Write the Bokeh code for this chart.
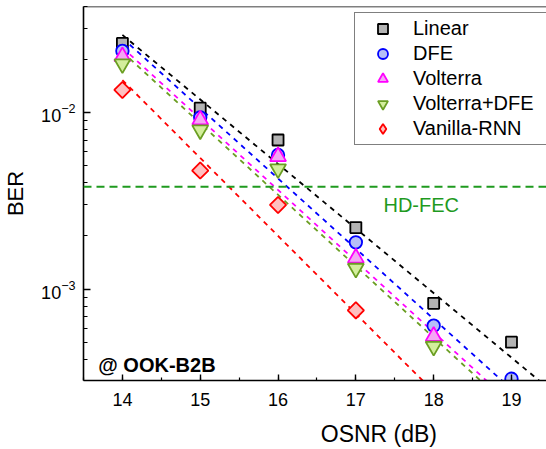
import numpy as np
from bokeh.plotting import figure
from bokeh.models import (Span, Label, Legend, LegendItem, FixedTicker,
                          SingleIntervalTicker, Range1d)
from bokeh.embed import file_html
from bokeh.resources import INLINE

# ---------------- data ----------------
osnr_linear = [14, 15, 16, 17, 18, 19]
ber_linear = [2.47e-2, 1.06e-2, 7.0e-3, 2.23e-3, 8.3e-4, 5.0e-4]

osnr_dfe = [14, 15, 16, 17, 18, 19]
ber_dfe = [2.24e-2, 9.4e-3, 5.76e-3, 1.84e-3, 6.2e-4, 3.1e-4]

osnr_volterra = [14, 15, 16, 17, 18]
ber_volterra = [2.08e-2, 9.1e-3, 5.64e-3, 1.50e-3, 5.4e-4]

osnr_vdfe = [14, 15, 16, 17, 18]
ber_vdfe = [1.89e-2, 7.98e-3, 4.8e-3, 1.31e-3, 4.73e-4]

osnr_rnn = [14, 15, 16, 17]
ber_rnn = [1.345e-2, 4.7e-3, 3.0e-3, 7.57e-4]

# linear fits (in log BER) drawn as dashed lines, end points
fit_osnr = [14, 19.5]
fit_linear = [2.76e-2, 2.68e-4]
fit_dfe = [2.65e-2, 1.71e-4]
fit_volterra = [2.34e-2, 1.41e-4]
fit_vdfe = [2.21e-2, 1.31e-4]
fit_rnn = [1.53e-2, 5.70e-5]

hd_fec = 3.8e-3
labels = ["Linear", "DFE", "Volterra", "Volterra+DFE", "Vanilla-RNN"]
y_ticks = [1e-3, 1e-2]
x_range = (13.5, 19.45)
y_range = (3.03e-4, 4.0e-2)

FONT = "Liberation Sans"

p = figure(width=546, height=449,
           x_range=Range1d(*x_range), y_range=Range1d(*y_range),
           y_axis_type="log", output_backend="svg", toolbar_location=None,
           min_border_left=81, min_border_right=0, min_border_top=6,
           min_border_bottom=68)
p.outline_line_color = None
p.xgrid.visible = False
p.ygrid.visible = False
p.background_fill_color = "white"
p.border_fill_color = "white"

# bottom axis
xa = p.below[0]
xa.ticker = SingleIntervalTicker(interval=1, num_minor_ticks=2)
xa.major_tick_in = 6
xa.major_tick_out = 0
xa.minor_tick_in = 3
xa.minor_tick_out = 0
xa.axis_line_width = 1.6
xa.major_tick_line_width = 1.4
xa.minor_tick_line_width = 1.2
xa.major_label_text_font = FONT
xa.major_label_text_font_size = "18px"
xa.major_label_text_color = "black"
xa.major_label_standoff = 12
# the original frame is cropped on the right, so its axis title sits to the
# right of the visible centre: pad it on the left with no-break spaces
xa.axis_label = "\u00a0" * 20 + "OSNR (dB)"
xa.axis_label_text_font = FONT
xa.axis_label_text_font_size = "23px"
xa.axis_label_text_font_style = "normal"
xa.axis_label_text_color = "black"
xa.axis_label_standoff = 12

# left axis
ya = p.left[0]
minor = [m * d for d in [1e-4, 1e-3, 1e-2] for m in range(2, 10)]
ya.ticker = FixedTicker(ticks=y_ticks, minor_ticks=minor)
ya.major_tick_in = 7
ya.major_tick_out = 0
ya.minor_tick_in = 4
ya.minor_tick_out = 0
ya.axis_line_width = 1.6
ya.major_tick_line_width = 1.4
ya.minor_tick_line_width = 1.2
ya.major_label_text_font = FONT
ya.major_label_text_font_size = "18px"
ya.major_label_text_color = "black"
ya.major_label_standoff = 8
ya.axis_label = "BER"
ya.axis_label_text_font = FONT
ya.axis_label_text_font_size = "22px"
ya.axis_label_text_font_style = "normal"
ya.axis_label_text_color = "black"
ya.axis_label_standoff = 10

# top frame line
p.add_layout(Span(location=y_range[1], dimension="width", line_color="black",
                  line_width=1.6))

# HD-FEC threshold
p.add_layout(Span(location=hd_fec, dimension="width", line_color="#1f9a1f",
                  line_dash="8 5", line_width=2))

# fit lines
fit_cols = ["black", "#0000ff", "#ff00ff", "#6b9e23", "#ff0000"]
for fy, c in zip([fit_linear, fit_dfe, fit_volterra, fit_vdfe, fit_rnn], fit_cols):
    p.line(fit_osnr, fy, line_color=c, line_dash="5 5", line_width=1.8)

lw = 1.8
r1 = p.scatter(osnr_linear, ber_linear, marker="square", size=11,
               fill_color="#b4b4b4", line_color="black", line_width=lw)
r2 = p.scatter(osnr_dfe, ber_dfe, marker="circle", size=12.5,
               fill_color="#b6bff7", line_color="#0000ff", line_width=lw)
r3 = p.scatter(osnr_volterra, ber_volterra, marker="triangle", size=16,
               fill_color="#f5a6f5", line_color="#ff00ff", line_width=lw)
r4 = p.scatter(osnr_vdfe, ber_vdfe, marker="inverted_triangle", size=16,
               fill_color="#d3ee9c", line_color="#6b9e23", line_width=lw)
# diamond glyph used for the legend (legend glyphs ignore marker angle);
# it is fully covered by the rotated squares drawn on top of it
r5_leg = p.scatter(osnr_rnn, ber_rnn, marker="diamond", size=14,
                   fill_color="#ffc0c0", line_color="#ff0000", line_width=lw)
r5 = p.scatter(osnr_rnn, ber_rnn, marker="square", angle=np.pi / 4, size=11.5,
               fill_color="#ffc0c0", line_color="#ff0000", line_width=lw)

legend = Legend(items=[LegendItem(label=l, renderers=[r])
                       for l, r in zip(labels, [r1, r2, r3, r4, r5_leg])],
                location=(271, 235), glyph_width=49, glyph_height=25,
                spacing=0, padding=3, label_standoff=6, label_width=131,
                label_height=25,
                label_text_font=FONT, label_text_font_size="20px",
                label_text_color="black",
                border_line_color="black", border_line_width=1.5,
                background_fill_color="white", background_fill_alpha=1.0)
p.add_layout(legend)

p.add_layout(Label(x=17.84, y=3.0e-3, text="HD-FEC", text_align="center",
                   text_baseline="middle", text_color="#1f9a1f",
                   text_font=FONT, text_font_size="20px"))
p.add_layout(Label(x=13.69, y=3.73e-4, text="@ OOK-B2B", text_align="left",
                   text_baseline="alphabetic", text_color="black",
                   text_font=FONT, text_font_size="20px", text_font_style="bold"))

open("out.html", "w").write(file_html(p, INLINE))
